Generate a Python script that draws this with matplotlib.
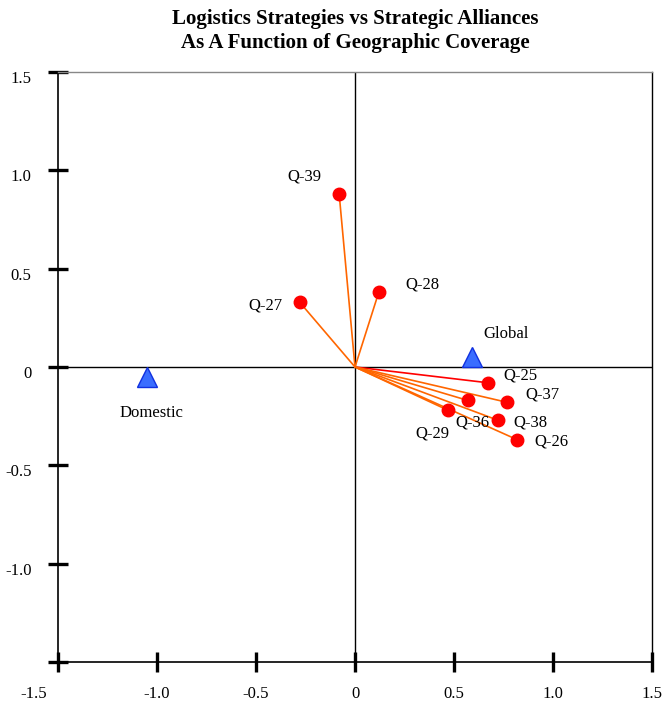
import matplotlib

matplotlib.use('Agg')
import matplotlib.pyplot as plt
from matplotlib.transforms import ScaledTranslation

plt.rcParams['font.family'] = ['Liberation Serif', 'DejaVu Serif']

# question vectors (loadings)
questions = ['Q-39', 'Q-28', 'Q-27', 'Q-25', 'Q-37', 'Q-36', 'Q-38', 'Q-29', 'Q-26']
q_x = [-0.08, 0.12, -0.28, 0.67, 0.77, 0.57, 0.72, 0.47, 0.82]
q_y = [0.88, 0.38, 0.33, -0.08, -0.18, -0.17, -0.27, -0.22, -0.37]

# group centroids
groups = ['Global', 'Domestic']
g_x = [0.59, -1.05]
g_y = [0.05, -0.05]

x_ticks = [-1.5, -1.0, -0.5, 0, 0.5, 1.0, 1.5]
x_tick_labels = ['-1.5', '-1.0', '-0.5', '0', '0.5', '1.0', '1.5']
y_ticks = [-1.5, -1.0, -0.5, 0, 0.5, 1.0, 1.5]
y_tick_labels = ['', '-1.0', '-0.5', '0', '0.5', '1.0', '1.5']

# label placement (pixels from the marker)
q_offsets = [(-35, 17), (44, 8), (-34, -3), (33, 7), (35, 8), (5, -22), (33, -2), (-16, -23), (34, -2)]
g_offsets = [(34, 23), (4, -36)]
line_colors = ['#ff6600', '#ff6600', '#ff6600', '#ff0000', '#ff6600',
               '#ff6600', '#ff6600', '#ff6600', '#ff6600']

fig = plt.figure(figsize=(6.63, 7.02), dpi=100)
ax = fig.add_axes([58 / 663, 1 - 662 / 702, 594 / 663, 590 / 702])
ax.set_xlim(-1.5, 1.5)
ax.set_ylim(-1.5, 1.5)

ax.axhline(0, color='black', lw=1.0, zorder=1)
ax.axvline(0, color='black', lw=1.0, zorder=1)

for x, y, c in zip(q_x, q_y, line_colors):
    ax.plot([0, x], [0, y], color=c, lw=1.2, zorder=2)
ax.plot(q_x, q_y, 'o', color='#ff0000', ms=9, zorder=3)
for name, x, y, off in zip(questions, q_x, q_y, q_offsets):
    ax.annotate(name, (x, y), xytext=off, textcoords='offset pixels',
                ha='center', va='center', fontsize=12)

ax.plot(g_x, g_y, '^', color='#3a6dff', mec='#1030e0', ms=14, zorder=3)
for name, x, y, off in zip(groups, g_x, g_y, g_offsets):
    ax.annotate(name, (x, y), xytext=off, textcoords='offset pixels',
                ha='center', va='center', fontsize=12)

ax.set_xticks(x_ticks)
ax.set_xticklabels(x_tick_labels, fontsize=12)
ax.set_yticks(y_ticks)
ax.set_yticklabels(y_tick_labels, fontsize=12)
ax.tick_params(direction='inout', length=14, width=2.4, pad=12)
ax.tick_params(axis='x', pad=10)

# nudge labels like the original
for lbl in ax.get_yticklabels():
    lbl.set_transform(lbl.get_transform() + ScaledTranslation(0, -5 / 100, fig.dpi_scale_trans))
first = ax.get_xticklabels()[0]
first.set_transform(first.get_transform() + ScaledTranslation(-24 / 100, 0, fig.dpi_scale_trans))

for side in ['left', 'bottom']:
    ax.spines[side].set_linewidth(1.2)
ax.spines['top'].set_color('#888888')
ax.spines['top'].set_linewidth(1.0)
ax.spines['right'].set_linewidth(1.0)

fig.text(355 / 663, 1 - 31 / 702,
         'Logistics Strategies vs Strategic Alliances\nAs A Function of Geographic Coverage',
         ha='center', va='center', fontsize=15, fontweight='bold', linespacing=1.3)

fig.savefig('out.png', dpi=100)
